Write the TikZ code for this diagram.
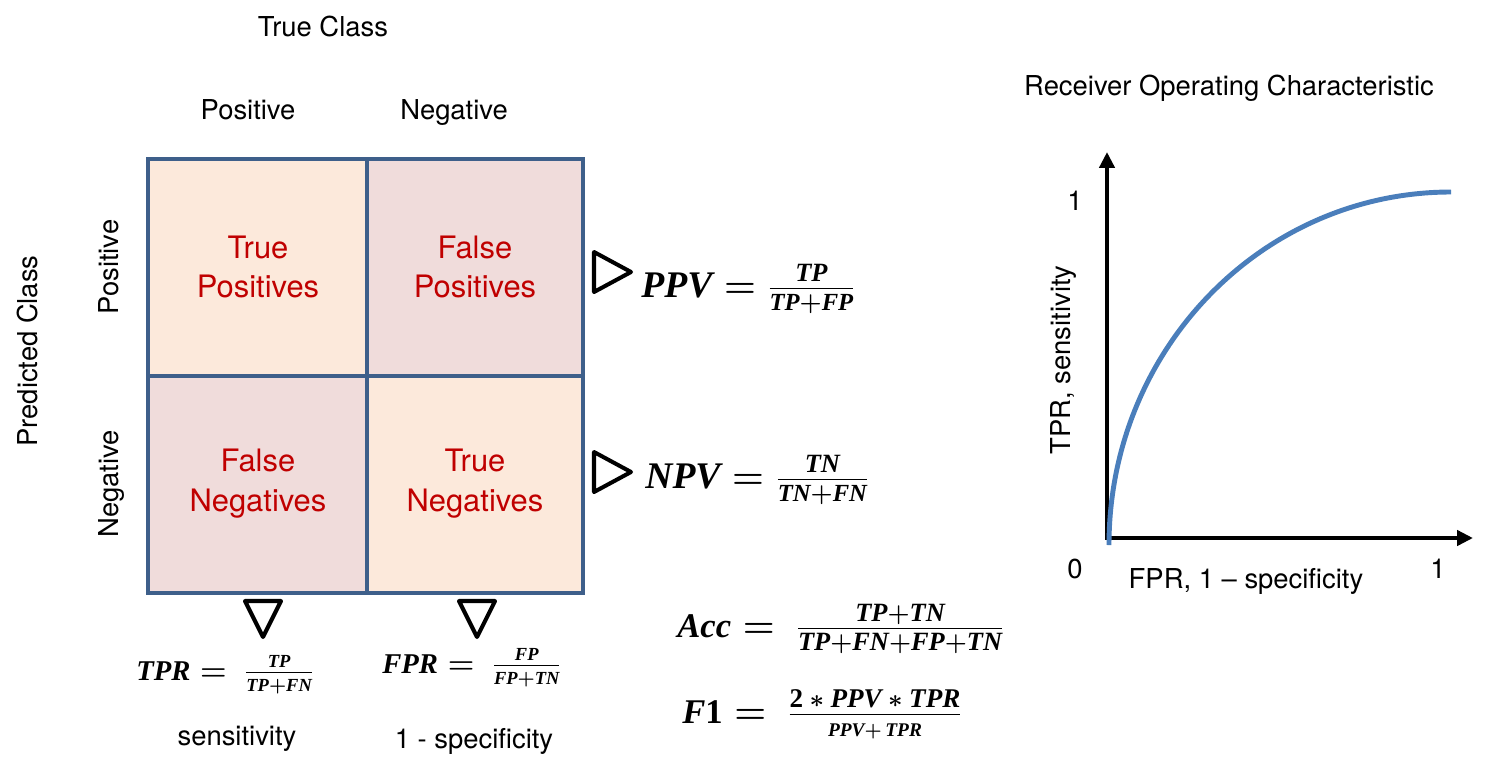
\documentclass[tikz,border=0pt]{standalone}
\usepackage{fontspec}
\setmainfont{TeX Gyre Heros}
\newfontfamily\eqfont{Liberation Serif}
\newcommand{\mv}[1]{\mbox{\eqfont\bfseries\itshape #1}}
\newcommand{\dg}[1]{\mbox{\eqfont\bfseries #1}}
\newcommand{\eqfrac}[4]{\frac{\mbox{\fontsize{#1}{#1}\selectfont$#2$}}{\mbox{\fontsize{#3}{#3}\selectfont$#4$}}}
\usetikzlibrary{arrows.meta}
\definecolor{gridblue}{HTML}{3E5F8A}
\definecolor{peach}{HTML}{FCE9DB}
\definecolor{rose}{HTML}{F0DCDB}
\definecolor{cellred}{HTML}{C00000}
\definecolor{rocblue}{HTML}{4A7EBB}
\begin{document}
\begin{tikzpicture}[x=0.02cm,y=-0.02cm,
	lab/.style={font=\fontsize{15.6}{19}\selectfont, anchor=base},
	celltext/.style={font=\fontsize{17.6}{22.7}\selectfont, text=cellred, align=center},
	formula/.style={anchor=base west, inner sep=0pt},
	tri/.style={line width=2.3pt, line join=round},
	grid/.style={gridblue, line width=2.3pt},
	axis/.style={line width=2.3pt, {Triangle[length=9pt,width=8.5pt]}-{Triangle[length=9pt,width=8.5pt]}}]
	\useasboundingbox (0,0) rectangle (1495,775);
	% confusion matrix
	\fill[peach] (148,159) rectangle (367,376);
	\fill[rose] (367,159) rectangle (583,376);
	\fill[rose] (148,376) rectangle (367,593);
	\fill[peach] (367,376) rectangle (583,593);
	\draw[grid] (148,159) rectangle (583,593);
	\draw[grid] (367,159) -- (367,593);
	\draw[grid] (148,376) -- (583,376);
	\node[celltext] (tp) at (258,267) {True\\Positives};
	\node[celltext] (fp) at (475,267) {False\\Positives};
	\node[celltext] (fn) at (258,484) {False\\Negatives};
	\node[celltext] (tn) at (475,484) {True\\Negatives};
	\node[lab] (trueclass) at (323,36) {True Class};
	\node[lab] (colpos) at (248,119) {Positive};
	\node[lab] (colneg) at (454,119) {Negative};
	\node[lab, rotate=90] (predclass) at (37,351) {Predicted Class};
	\node[lab, rotate=90] (rowpos) at (118,267) {Positive};
	\node[lab, rotate=90] (rowneg) at (118,484) {Negative};
	% pointers
	\draw[tri] (594,252) -- (631,272) -- (594,292) -- cycle;
	\draw[tri] (594,452) -- (631,472) -- (594,492) -- cycle;
	\draw[tri] (245,601) -- (281,601) -- (263,637) -- cycle;
	\draw[tri] (459,601) -- (495,601) -- (477,637) -- cycle;
	% metrics
	\node[formula, font=\fontsize{21.4}{25}\selectfont\boldmath] (ppv) at (641,297)
		{$\mv{PPV} = \eqfrac{15}{\mv{TP}}{14}{\mv{TP}{+}\mv{FP}}$};
	\node[formula, font=\fontsize{21.4}{25}\selectfont\boldmath] (npv) at (645,488)
		{$\mv{NPV} = \eqfrac{15}{\mv{TN}}{14}{\mv{TN}{+}\mv{FN}}$};
	\node[formula, font=\fontsize{16.3}{19}\selectfont\boldmath] (tpr) at (136,680)
		{$\mv{TPR} = \ \eqfrac{10.5}{\mv{TP}}{10.5}{\mv{TP}{+}\mv{FN}}$};
	\node[formula, font=\fontsize{16.3}{19}\selectfont\boldmath] (fpr) at (382,673)
		{$\mv{FPR} = \ \eqfrac{10.5}{\mv{FP}}{10.5}{\mv{FP}{+}\mv{TN}}$};
	\node[formula, font=\fontsize{19.7}{23}\selectfont\boldmath] (acc) at (677,637)
		{$\mv{Acc} = \ \eqfrac{15}{\mv{TP}{+}\mv{TN}}{15}{\mv{TP}{+}\mv{FN}{+}\mv{FP}{+}\mv{TN}}$};
	\node[formula, font=\fontsize{19.7}{23}\selectfont\boldmath] (fone) at (682,723)
		{$\mv{F}\dg{1} = \ \eqfrac{15.4}{\dg{2} \ast \mv{PPV} \ast \mv{TPR}}{11}{\mv{PPV}{+}\,\mv{TPR}}$};
	\node[lab] (sens) at (237,745) {sensitivity};
	\node[lab] (spec) at (474,748) {1 - specificity};
	% ROC
	\node[lab] (roctitle) at (1229,95) {Receiver Operating Characteristic};
	\coordinate (origin) at (1107,538);
	\coordinate (ytip) at (1107,152);
	\coordinate (xtip) at (1473,538);
	\draw[axis] (ytip) -- (origin) -- (xtip);
	\draw[rocblue, line width=2.8pt] (1109,545) .. controls (1109,350) and (1262,192) .. (1451,192);
	\node[lab] (yone) at (1075,210) {1};
	\node[lab] (zero) at (1075,578) {0};
	\node[lab] (xone) at (1438,578) {1};
	\node[lab] (xlabel) at (1246,588) {FPR, 1 – specificity};
	\node[lab, rotate=90] (ylabel) at (1070,360) {TPR, sensitivity};
\end{tikzpicture}
\end{document}
